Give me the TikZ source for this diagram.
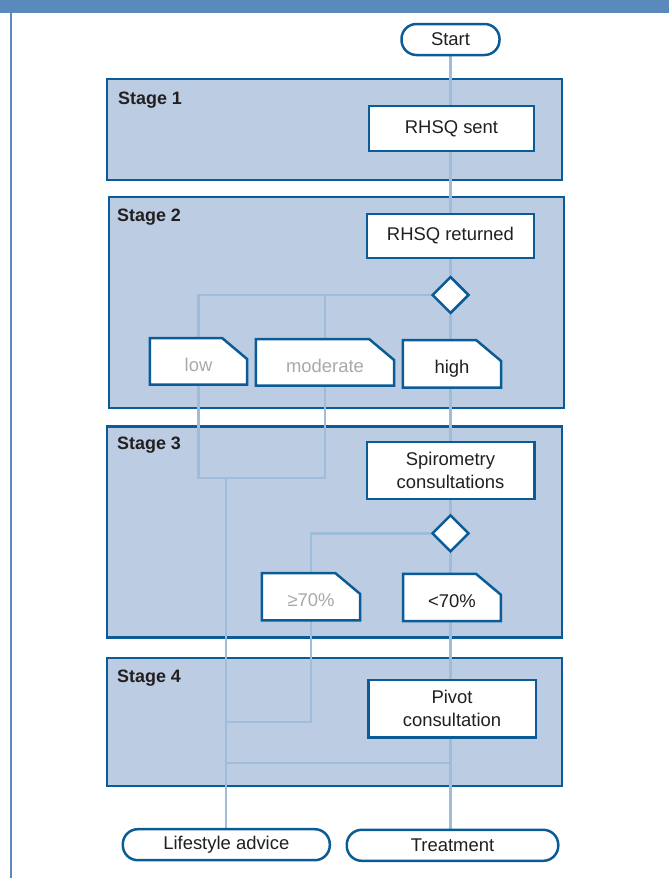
\documentclass[tikz,border=0pt]{standalone}
\usepackage{fontspec}
\setmainfont{Liberation Sans}
\usetikzlibrary{shapes.geometric}
\definecolor{bar}{HTML}{5A8ABB}
\definecolor{edge}{HTML}{0B5C96}
\definecolor{stagefill}{HTML}{BCCDE3}
\definecolor{connc}{HTML}{A0BCDB}
\definecolor{txt}{HTML}{231F20}
\definecolor{muted}{HTML}{A7A9AC}
\pgfdeclarelayer{bg}\pgfdeclarelayer{lines}\pgfdeclarelayer{tags}
\pgfsetlayers{bg,lines,tags,main}
\tikzset{
 stagebox/.style={draw=edge, fill=stagefill, line width=2.5bp, inner sep=0},
 stagelabel/.style={anchor=west, inner sep=0, font=\fontsize{18}{20}\selectfont\bfseries, text=txt},
 procbox/.style={draw=edge, fill=white, line width=2.5bp, align=center, inner sep=0, font=\fontsize{18.5}{23}\selectfont, text=txt},
 pill/.style={procbox, rounded corners=15bp},
 decision/.style={diamond, draw=edge, fill=white, line width=2.5bp, minimum width=37bp, minimum height=37bp, inner sep=0},
 tagbox/.style={rectangle, inner sep=0, text height=20bp, text depth=0bp, font=\fontsize{18.5}{21}\selectfont, text=txt},
 mutedtag/.style={tagbox, text=muted},
 tagpath/.style={draw=edge, fill=white, line width=2.5bp},
 conn/.style={draw=connc, line width=2.5bp},
}
\newcommand\tagoutline[1]{%
  \path[tagpath] (#1.south west) -- (#1.north west) -- ([xshift=-25bp]#1.north east)
    -- ([yshift=-21bp]#1.north east) -- (#1.south east) -- cycle;}
\begin{document}
\begin{tikzpicture}[x=1bp,y=-1bp]
\useasboundingbox (0,0) rectangle (669,878);
\fill[bar] (0,0) rectangle (669,13);
\fill[bar] (9.5,13) rectangle (11.5,878);

\begin{pgfonlayer}{bg}
\node[stagebox, minimum width=455bp, minimum height=101bp] (st1) at (334.5,129.5) {};
\node[stagebox, minimum width=455bp, minimum height=211bp] (st2) at (336.5,302.5) {};
\node[stagebox, minimum width=455bp, minimum height=211bp] (st3) at (334.5,532) {};
\node[stagebox, minimum width=455bp, minimum height=128bp] (st4) at (334.5,722) {};
\end{pgfonlayer}
\node[stagelabel] (l1) at (118,100) {Stage 1};
\node[stagelabel] (l2) at (117,217) {Stage 2};
\node[stagelabel] (l3) at (117,445) {Stage 3};
\node[stagelabel] (l4) at (117,678) {Stage 4};

\node[pill, minimum width=98bp, minimum height=31bp] (start) at (450.5,39.5) {Start};
\node[procbox, minimum width=165bp, minimum height=45bp] (sent) at (451.5,128.5) {RHSQ sent};
\node[procbox, minimum width=167bp, minimum height=44bp] (ret) at (450.5,236) {RHSQ returned};
\node[decision] (d1) at (450.5,295) {};
\node[mutedtag, minimum width=97bp, minimum height=46bp] (low) at (198.5,361.3) {low};
\node[mutedtag, minimum width=138bp, minimum height=46bp] (mod) at (325,362.3) {moderate};
\node[tagbox, minimum width=98bp, minimum height=47bp] (high) at (452,363.8) {high};
\node[procbox, minimum width=167.5bp, minimum height=57bp] (spiro) at (450.5,470.3) {Spirometry\\consultations};
\node[decision] (d2) at (450.5,533.3) {};
\node[mutedtag, minimum width=98bp, minimum height=47bp] (ge) at (311,596.7) {≥70\%};
\node[tagbox, minimum width=97.5bp, minimum height=47bp] (lt) at (452,597.5) {<70\%};
\node[procbox, minimum width=167.5bp, minimum height=57.5bp] (pivot) at (452,708.8) {Pivot\\consultation};
\node[pill, minimum width=207bp, minimum height=31bp] (life) at (226.3,844.7) {Lifestyle advice};
\node[pill, minimum width=211.5bp, minimum height=31bp] (treat) at (452.5,845.3) {Treatment};

\begin{pgfonlayer}{tags}
\foreach \n in {low, mod, high, ge, lt} {\tagoutline{\n}}
\end{pgfonlayer}

\coordinate (j1) at (226,478);
\coordinate (j2) at (226,722);
\coordinate (j3) at (226,763);
\begin{pgfonlayer}{lines}
\foreach \a/\b in {start/sent, sent/ret, ret/d1, d1/high, high/spiro, spiro/d2, d2/lt, lt/pivot, pivot/treat}
  \draw[conn] (d1 |- \a.south) -- (d1 |- \b.north);
\draw[conn] (d1.west) -| (low.north);
\draw[conn] (d1.west) -| (mod.north);
\draw[conn] (low.south) |- (j1) -| (mod.south);
\draw[conn] (j1) -- (j1 |- life.north);
\draw[conn] (d2.west) -| (ge.north);
\draw[conn] (ge.south) |- (j2);
\draw[conn] (d1 |- j3) -- (j3);
\end{pgfonlayer}
\end{tikzpicture}
\end{document}
